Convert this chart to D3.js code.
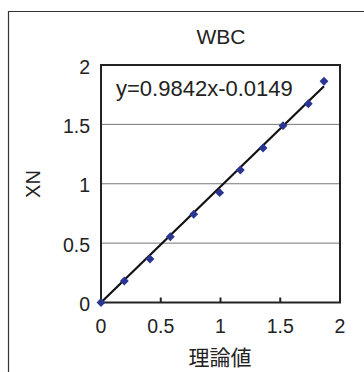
<!DOCTYPE html>
<html><head><meta charset="utf-8">
<script src="https://cdn.jsdelivr.net/npm/d3@7"></script>
<style>body{margin:0;background:#fff}svg{display:block}</style>
</head><body>
<script>
const xValues = [0, 0.195, 0.41, 0.58, 0.776, 0.993, 1.166, 1.356, 1.523, 1.735, 1.866];
const yValues = [0, 0.181, 0.366, 0.554, 0.743, 0.925, 1.116, 1.301, 1.489, 1.674, 1.863];
const xTicks = [0, 0.5, 1, 1.5, 2];
const yTicks = [0, 0.5, 1, 1.5, 2];
const slope = 0.9842, intercept = -0.0149;
const title = "WBC", xLabel = "理論値", yLabel = "XN";
const eqText = "y=0.9842x-0.0149";

const W = 364, H = 372;
const svg = d3.select("body").append("svg").attr("width", W).attr("height", H);
const font = "'Liberation Sans', Arial, sans-serif";
const L = 101, R = 340, T = 65, B = 302.5;
const x = d3.scaleLinear().domain([0, 2]).range([L, R]);
const y = d3.scaleLinear().domain([0, 2]).range([B, T]);

// outer frame (cropped)
svg.append("path").attr("d", `M8.5,${H} V11.5 H${W}`).attr("fill", "none").attr("stroke", "#333").attr("stroke-width", 1.2);

// grid
svg.append("g").selectAll("line").data(yTicks.filter(d => d > 0 && d < 2)).join("line")
  .attr("x1", L).attr("x2", R).attr("y1", d => y(d)).attr("y2", d => y(d))
  .attr("stroke", "#777").attr("stroke-width", 1);

// x axis inner ticks
svg.append("g").selectAll("line").data(xTicks.filter(d => d > 0 && d < 2)).join("line")
  .attr("x1", d => x(d)).attr("x2", d => x(d)).attr("y1", B).attr("y2", B - 5)
  .attr("stroke", "#222").attr("stroke-width", 2);

// frame
svg.append("rect").attr("x", L).attr("y", T).attr("width", R - L).attr("height", B - T)
  .attr("fill", "none").attr("stroke", "#222").attr("stroke-width", 2);

// tick labels
svg.append("g").selectAll("text").data(xTicks).join("text")
  .attr("x", d => x(d)).attr("y", B + 30.5).attr("text-anchor", "middle")
  .attr("font-family", font).attr("font-size", 19.5).attr("fill", "#222")
  .text(d => d3.format("~g")(d));
svg.append("g").selectAll("text").data(yTicks).join("text")
  .attr("x", 90).attr("y", d => y(d) + 8.5).attr("text-anchor", "end")
  .attr("font-family", font).attr("font-size", 19.5).attr("fill", "#222")
  .text(d => d3.format("~g")(d));

// trendline
const xmax = d3.max(xValues);
svg.append("line")
  .attr("x1", x(0)).attr("y1", y(Math.max(0, intercept)))
  .attr("x2", x(xmax)).attr("y2", y(slope * xmax + intercept))
  .attr("stroke", "#111").attr("stroke-width", 2.2);

// points
const pts = xValues.map((v, i) => [v, yValues[i]]);
svg.append("g").selectAll("path").data(pts).join("path")
  .attr("transform", d => `translate(${x(d[0])},${y(d[1])})`)
  .attr("d", d3.symbol(d3.symbolDiamond2, 50)())
  .attr("fill", "#2B3592");

// texts
svg.append("text").attr("x", 221).attr("y", 43.5).attr("text-anchor", "middle")
  .attr("font-family", font).attr("font-size", 21).attr("fill", "#222").text(title);
svg.append("text").attr("x", 116).attr("y", 96)
  .attr("font-family", font).attr("font-size", 22).attr("fill", "#222").text(eqText);
svg.append("text").attr("x", 220).attr("y", 365).attr("text-anchor", "middle")
  .attr("font-family", "'Noto Sans CJK JP', sans-serif").attr("font-size", 21).attr("fill", "#222").text(xLabel);
svg.append("text").attr("transform", "translate(40,184) rotate(-90)").attr("text-anchor", "middle")
  .attr("font-family", font).attr("font-size", 20).attr("fill", "#222").text(yLabel);
</script>
</body></html>
